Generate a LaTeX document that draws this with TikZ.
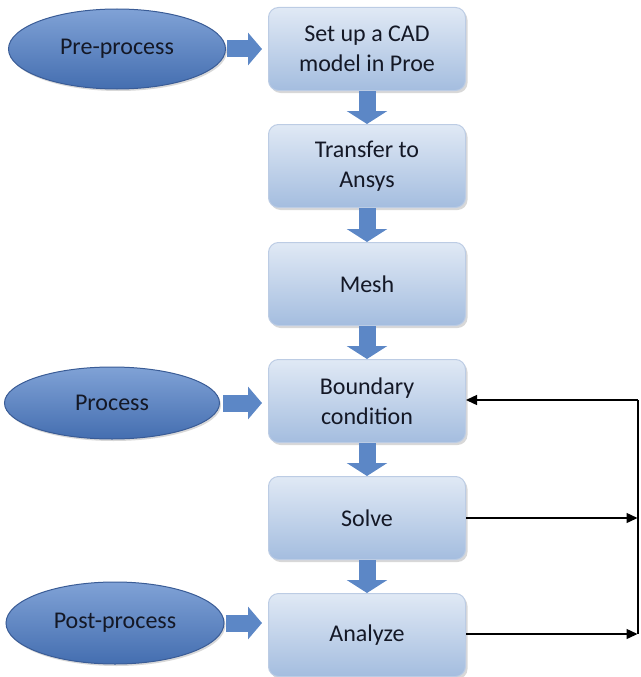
\documentclass[tikz,border=0pt]{standalone}
\usepackage{fontspec}
\setmainfont{Carlito}
\usetikzlibrary{arrows.meta,shapes.geometric,shadows}
\definecolor{boxtop}{RGB}{224,233,245}
\definecolor{boxbot}{RGB}{164,189,223}
\definecolor{boxedge}{RGB}{188,204,228}
\definecolor{elltop}{RGB}{128,162,214}
\definecolor{ellbot}{RGB}{68,110,176}
\definecolor{elledge}{RGB}{58,92,150}
\definecolor{arrblue}{RGB}{92,135,198}
\definecolor{txt}{RGB}{20,24,38}
\begin{document}
\begin{tikzpicture}[x=1pt,y=-1pt,
  stepbox/.style={rectangle, rounded corners=10pt, minimum width=197pt, minimum height=83pt,
    top color=boxtop, bottom color=boxbot, draw=boxedge, line width=1pt,
    drop shadow={shadow xshift=2pt, shadow yshift=-2.5pt, fill=black!30},
    align=center, font=\fontsize{24}{30}\selectfont, text=txt},
  phase/.style={ellipse, minimum width=217pt, minimum height=80pt, inner sep=0pt,
    top color=elltop, bottom color=ellbot, draw=elledge, line width=1pt,
    drop shadow={shadow xshift=1.5pt, shadow yshift=-2pt, fill=black!30},
    font=\fontsize{24}{28}\selectfont, text=txt},
  blk/.style={draw=arrblue, line width=17pt, -{Triangle[length=13pt,width=40pt]}},
  hblk/.style={draw=arrblue, line width=17pt, -{Triangle[length=14pt,width=32pt]}},
  link/.style={draw=black, line width=1.4pt, -{Triangle[length=11pt,width=10pt]}},
  plain/.style={draw=black, line width=1.4pt}]
\useasboundingbox (0,0) rectangle (640,677);

% process steps
\node[stepbox] (b1) at (367,49)  {Set up a CAD\\model in Proe};
\node[stepbox] (b2) at (367,166) {Transfer to\\Ansys};
\node[stepbox] (b3) at (367,284) {Mesh};
\node[stepbox] (b4) at (367,401) {Boundary\\condition};
\node[stepbox] (b5) at (367,518) {Solve};
\node[stepbox] (b6) at (367,635) {Analyze};

% phases
\node[phase] (e1) at (117,49) {Pre-process};
\node[phase, minimum width=215pt, minimum height=72pt] (e2) at (112,403) {Process};
\node[phase, minimum width=218pt, minimum height=82pt] (e3) at (115,623) {Post-process};

% block arrows
\draw[hblk, shorten <=1pt, shorten >=6pt] (e1.east) -- (b1.west |- e1.east);
\draw[hblk, shorten <=3pt, shorten >=6pt] (e2.east) -- (b4.west |- e2.east);
\draw[hblk, shorten <=1pt, shorten >=6pt] (e3.east) -- (b6.west |- e3.east);
\draw[blk] (b1.south) -- (b2.north);
\draw[blk] (b2.south) -- (b3.north);
\draw[blk] (b3.south) -- (b4.north);
\draw[blk] (b4.south) -- (b5.north);
\draw[blk] (b5.south) -- (b6.north);

% feedback connectors
\coordinate (c1) at (638,400);
\coordinate (c2) at (638,634);
\draw[plain] (c1) -- (c2);
\draw[link] (c1) -- (b4.east |- c1);
\draw[link, shorten >=0.5pt] (b5.east) -- (b5.east -| c1);
\draw[link, shorten >=0.5pt] (b6.east |- c2) -- (c2);
\end{tikzpicture}
\end{document}
